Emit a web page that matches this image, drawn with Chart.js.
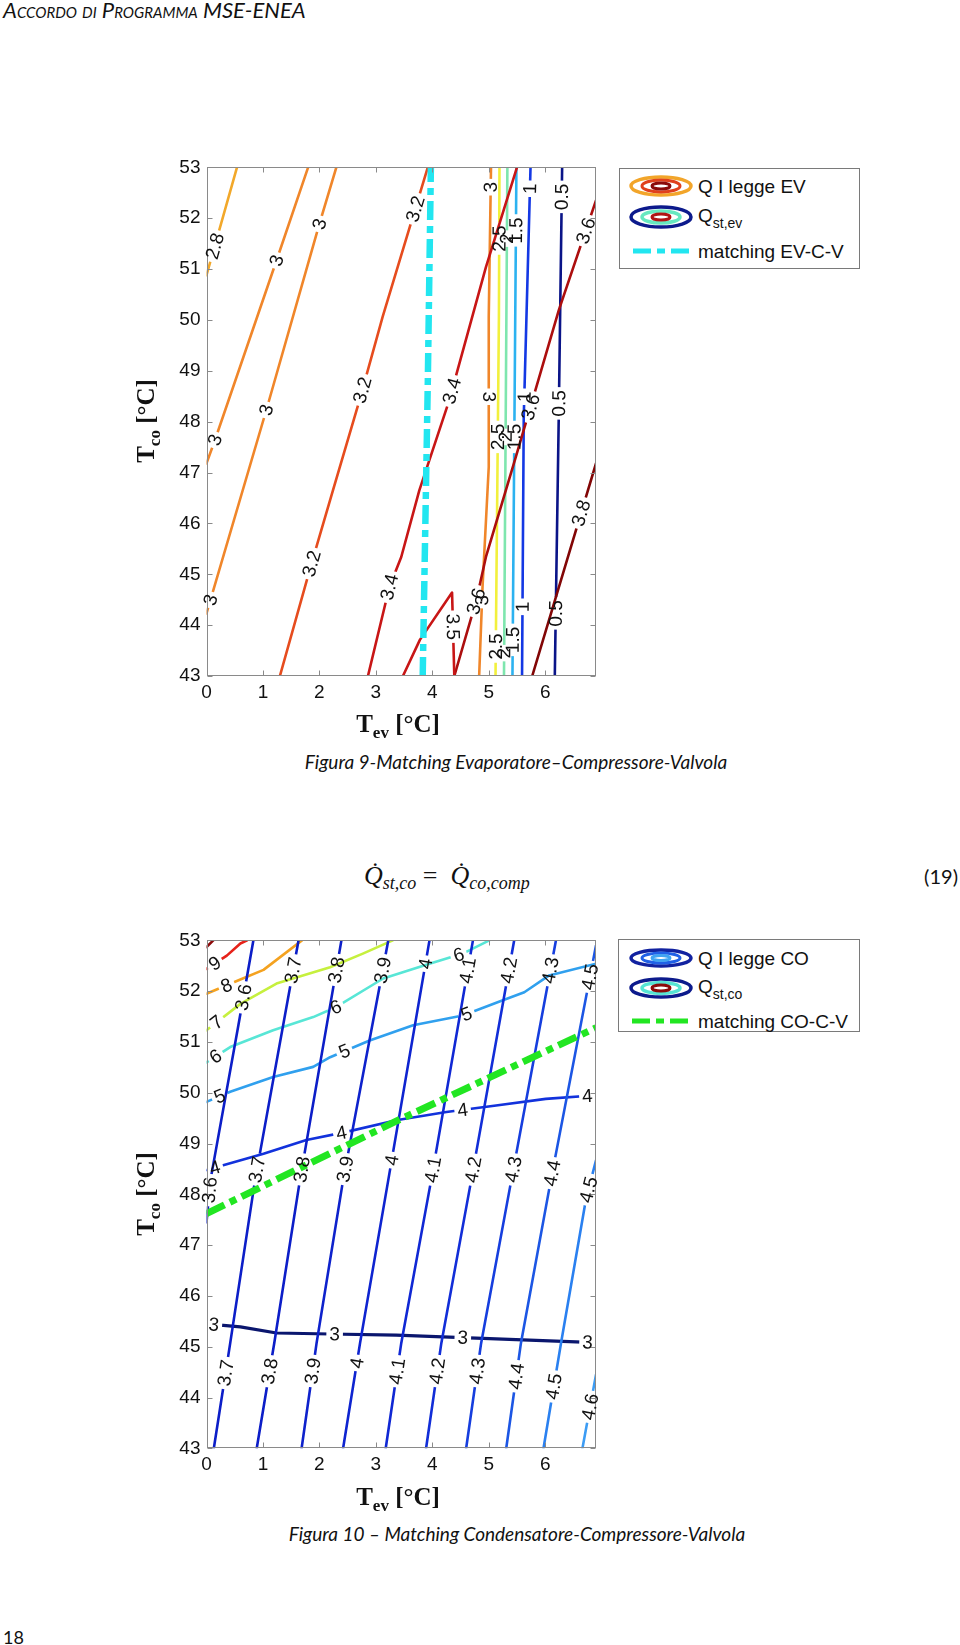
<!DOCTYPE html>
<html lang="it">
<head>
<meta charset="utf-8">
<title>Matching EV-C-V / CO-C-V</title>
<script src="https://cdn.jsdelivr.net/npm/chart.js@4.4.1/dist/chart.umd.min.js"></script>
<style>
  html, body { margin: 0; padding: 0; background: #fff; }
  #page { position: relative; width: 960px; height: 1645px; overflow: hidden; color: #111;
          font-family: "Liberation Sans", Arial, sans-serif; }
  .abs { position: absolute; white-space: nowrap; }
  .hdr { left: 3px; top: -1px; font: italic 22px/22px Lato, sans-serif; font-variant: small-caps; }
  .cap { width: 600px; text-align: center; font: italic 19px/19px Lato, sans-serif; }
  .num { font: 18px/18px Lato, sans-serif; }
  .eq { font: italic 26px/26px "Liberation Serif", serif; }
  .eq sub { font-size: 18px; vertical-align: -5px; }
  .eq .op { font-style: normal; }
  .ttl { width: 200px; height: 30px; text-align: center; font: bold 25px/30px "Liberation Serif", serif; }
  .ttl sub { font-size: 17px; vertical-align: -6px; }
  .rot { transform: rotate(-90deg); transform-origin: 50% 50%; }
  .legend { box-sizing: border-box; border: 1px solid #7a7a7a; background: #fff; }
  .lt { font: 19px/19px "Liberation Sans", Arial, sans-serif; }
  .lt sub { font-size: 14px; vertical-align: -6px; }
</style>
</head>
<body>
<div id="page">
  <div class="abs hdr">Accordo di Programma MSE-ENEA</div>

  <!-- Figura 9 -->
  <div class="abs" style="left:150px;top:150px"><canvas id="fig9" width="460" height="560"></canvas></div>
  <div class="abs ttl rot" style="left:46px;top:406px">T<sub>co</sub> [°C]</div>
  <div class="abs ttl" style="left:298px;top:709px">T<sub>ev</sub> [°C]</div>
  <div class="abs legend" style="left:619px;top:168px;width:241px;height:101px">
    <svg class="abs" style="left:0;top:0" width="239" height="99">
      <ellipse cx="41" cy="17" rx="30" ry="9" fill="none" stroke="#f2a52a" stroke-width="3.5"/>
      <ellipse cx="41" cy="17" rx="19" ry="6" fill="none" stroke="#e0401c" stroke-width="3"/>
      <ellipse cx="41" cy="17" rx="9" ry="3" fill="none" stroke="#8a0a0a" stroke-width="3"/>
      <ellipse cx="41" cy="48" rx="30" ry="10" fill="none" stroke="#0c1a8c" stroke-width="3.5"/>
      <ellipse cx="41" cy="48" rx="19" ry="6" fill="none" stroke="#66e8c0" stroke-width="3.5"/>
      <ellipse cx="41" cy="48" rx="9" ry="3" fill="none" stroke="#b01414" stroke-width="3"/>
      <line x1="13" y1="82" x2="73" y2="82" stroke="#22e6f0" stroke-width="5" stroke-dasharray="18 6 8 6"/>
    </svg>
    <span class="abs lt" style="left:78px;top:8px">Q I legge EV</span>
    <span class="abs lt" style="left:78px;top:37px">Q<sub>st,ev</sub></span>
    <span class="abs lt" style="left:78px;top:73px">matching EV-C-V</span>
  </div>
  <div class="abs cap" style="left:216px;top:752px">Figura 9-Matching Evaporatore–Compressore-Valvola</div>

  <div class="abs eq" style="left:364px;top:863px">Q̇<sub>st,co</sub> <span class="op">=</span>&nbsp; Q̇<sub>co,comp</sub></div>
  <div class="abs cap" style="left:358px;top:867px;text-align:right;font-style:normal;font-size:20px">(19)</div>

  <!-- Figura 10 -->
  <div class="abs" style="left:150px;top:923px"><canvas id="fig10" width="460" height="560"></canvas></div>
  <div class="abs ttl rot" style="left:46px;top:1179px">T<sub>co</sub> [°C]</div>
  <div class="abs ttl" style="left:298px;top:1482px">T<sub>ev</sub> [°C]</div>
  <div class="abs legend" style="left:618px;top:939px;width:242px;height:93px">
    <svg class="abs" style="left:0;top:0" width="240" height="91">
      <ellipse cx="42" cy="18" rx="30" ry="8" fill="none" stroke="#1222a0" stroke-width="3.5"/>
      <ellipse cx="42" cy="18" rx="19" ry="5" fill="none" stroke="#2060e6" stroke-width="3"/>
      <ellipse cx="42" cy="18" rx="9" ry="2.5" fill="none" stroke="#40a4f2" stroke-width="3"/>
      <ellipse cx="42" cy="48" rx="30" ry="9" fill="none" stroke="#0c1a8c" stroke-width="3.5"/>
      <ellipse cx="42" cy="48" rx="19" ry="5.5" fill="none" stroke="#56e4d4" stroke-width="3.5"/>
      <ellipse cx="42" cy="48" rx="9" ry="3" fill="none" stroke="#8a0a0a" stroke-width="3"/>
      <line x1="13" y1="81" x2="73" y2="81" stroke="#22e622" stroke-width="5" stroke-dasharray="18 6 8 6"/>
    </svg>
    <span class="abs lt" style="left:79px;top:9px">Q I legge CO</span>
    <span class="abs lt" style="left:79px;top:37px">Q<sub>st,co</sub></span>
    <span class="abs lt" style="left:79px;top:72px">matching CO-C-V</span>
  </div>
  <div class="abs cap" style="left:217px;top:1524px">Figura 10 – Matching Condensatore-Compressore-Valvola</div>

  <div class="abs num" style="left:3px;top:1628px">18</div>
</div>

<script>
// axis ranges (Tev on x, Tco on y)
const tevRange = [0, 6.9];
const tcoRange = [43, 53];

// ---------- Figura 9 : Q I legge EV isolines [Tev, Tco] ----------
const ev28  = [[0, 50.88], [0.54, 53]];
const ev30a = [[0, 47.18], [0.15, 47.64], [1.24, 51.17], [1.8, 53]];
const ev30b = [[0, 44.23], [1.06, 48.23], [2.0, 51.89], [2.3, 53]];
const ev32  = [[1.3, 43], [1.86, 45.21], [2.24, 46.65], [2.71, 48.42], [3.12, 50.06], [3.92, 53]];
const ev34  = [[2.86, 43], [3.24, 44.75], [3.45, 45.34], [3.77, 46.65], [4.3, 48.42], [4.95, 51.04], [5.5, 53]];
const ev35  = [[3.48, 43], [3.78, 43.71], [4.35, 44.64], [4.39, 43]];
const ev36  = [[4.39, 43], [4.78, 44.49], [4.95, 45.34], [5.48, 47.31], [5.74, 48.29], [6.24, 50.19], [6.9, 52.35]];
const ev38  = [[5.77, 43], [6.9, 47.18]];

// Q st,ev isolines
const st30 = [[4.83, 43], [4.89, 44.75], [5.0, 47.11], [5.0, 50.06], [5.04, 53]];
const st25 = [[5.12, 43], [5.18, 50.05], [5.19, 53]];
const st20 = [[5.27, 43], [5.33, 53]];
const st15 = [[5.42, 43], [5.49, 53]];
const st10 = [[5.59, 43], [5.62, 48.09], [5.74, 53]];
const st05 = [[6.17, 43], [6.24, 48.09], [6.3, 53]];

// matching EV-C-V
const matchEv = [[3.83, 43], [3.92, 48.75], [3.975, 53]];

// contour label anchors
const ev28Lab  = [[0.09, 51.47]];
const ev30aLab = [[0.15, 47.64], [1.24, 51.17]];
const ev30bLab = [[0.09, 44.49], [1.06, 48.23], [2.0, 51.89]];
const ev32Lab  = [[1.86, 45.21], [2.77, 48.62], [3.77, 52.16]];
const ev34Lab  = [[3.24, 44.75], [4.3, 48.62]];
const ev35Lab  = [[4.37, 43.97]];
const ev36Lab  = [[4.71, 44.49], [5.74, 48.29], [6.71, 51.76]];
const ev38Lab  = [[6.65, 46.2]];
const st30Lab  = [[4.92, 44.49], [5.0, 48.49], [5.06, 52.61]];
const st25Lab  = [[5.12, 43.58], [5.18, 47.7], [5.21, 51.6]];
const st20Lab  = [[5.28, 43.45], [5.31, 47.7], [5.31, 51.6]];
const st15Lab  = [[5.42, 43.71], [5.5, 47.7], [5.48, 51.76]];
const st10Lab  = [[5.62, 44.36], [5.65, 48.49], [5.74, 52.58]];
const st05Lab  = [[6.24, 44.23], [6.27, 48.36], [6.3, 52.42]];

// ---------- Figura 10 : Q I legge CO isolines ----------
const co36 = [[0, 47.45], [0.07, 48.28], [0.565, 51.33], [0.83, 53]];
const co37 = [[0.13, 43], [0.42, 45.07], [0.86, 48.28], [1.63, 53]];
const co38 = [[0.89, 43], [1.2, 45.07], [1.655, 48.28], [2.39, 53]];
const co39 = [[1.685, 43], [1.95, 45.07], [2.42, 48.28], [3.22, 53]];
const co40 = [[2.42, 43], [2.72, 45.07], [3.22, 48.28], [3.95, 53]];
const co41 = [[3.175, 43], [3.45, 45.07], [3.98, 48.28], [4.72, 53]];
const co42 = [[3.89, 43], [4.16, 45.07], [4.69, 48.28], [5.45, 53]];
const co43 = [[4.6, 43], [4.865, 45.07], [5.4, 48.28], [6.19, 53]];
const co44 = [[5.31, 43], [5.57, 45.07], [6.1, 48.28], [6.9, 52.9]];
const co45 = [[5.97, 43], [6.28, 45.07], [6.72, 47.89], [6.9, 48.67]];
const co46 = [[6.66, 43], [6.9, 44.45]];

// Q st,co isolines
const sc3  = [[0, 45.45], [0.6, 45.39], [1.24, 45.27], [2.19, 45.25], [3.36, 45.23], [4.54, 45.18], [5.72, 45.13], [6.9, 45.08]];
const sc4  = [[0, 48.48], [1.01, 48.8], [1.77, 49.07], [2.48, 49.23], [3.36, 49.46], [4.25, 49.62], [5.13, 49.75], [6.01, 49.88], [6.9, 49.95]];
const sc5  = [[0, 49.82], [0.42, 50.02], [1.18, 50.31], [1.89, 50.51], [2.19, 50.7], [2.89, 51.03], [3.66, 51.33], [4.54, 51.52], [5.25, 51.82], [5.63, 51.98], [6.07, 52.31], [6.9, 52.54]];
const sc6  = [[0, 50.6], [0.42, 50.9], [1.18, 51.23], [1.89, 51.49], [2.3, 51.69], [3.13, 52.25], [3.95, 52.54], [4.54, 52.74], [5.01, 53]];
const sc7  = [[0, 51.23], [0.6, 51.75], [1.24, 52.15], [2.19, 52.47], [2.77, 52.74], [3.3, 53]];
const sc8  = [[0, 51.95], [0.6, 52.23], [1.01, 52.42], [1.69, 53]];
const sc9  = [[0, 52.44], [0.36, 52.7], [0.6, 52.94], [0.72, 53]];
const sc10 = [[0, 52.87], [0.12, 53]];

// matching CO-C-V
const matchCo = [[0, 47.62], [3.36, 49.44], [6.9, 51.28]];

const co36Lab = [[0.1, 48.08], [0.65, 51.88]];
const co37Lab = [[0.36, 44.48], [0.98, 48.47], [1.54, 52.41]];
const co38Lab = [[1.155, 44.51], [1.74, 48.48], [2.34, 52.41]];
const co39Lab = [[1.95, 44.51], [2.54, 48.48], [3.13, 52.41]];
const co40Lab = [[2.72, 44.67], [3.3, 48.67], [3.89, 52.54]];
const co41Lab = [[3.42, 44.51], [4.04, 48.48], [4.62, 52.41]];
const co42Lab = [[4.16, 44.51], [4.75, 48.48], [5.36, 52.41]];
const co43Lab = [[4.865, 44.51], [5.48, 48.48], [6.1, 52.41]];
const co44Lab = [[5.54, 44.41], [6.16, 48.41], [6.8, 52.28, '4.5']];
const co45Lab = [[6.19, 44.21], [6.81, 48.08]];
const co46Lab = [[6.78, 43.82]];
const sc3Lab  = [[0.13, 45.43], [2.27, 45.25], [4.54, 45.17], [6.75, 45.08]];
const sc4Lab  = [[0.16, 48.48], [2.4, 49.15], [4.54, 49.64], [6.75, 49.9]];
const sc5Lab  = [[0.25, 49.89], [2.46, 50.77], [4.6, 51.57]];
const sc6Lab  = [[0.16, 50.72], [2.3, 51.66], [4.46, 52.74]];
const sc7Lab  = [[0.22, 51.33]];
const sc8Lab  = [[0.36, 52.1]];
const sc9Lab  = [[0.15, 52.54]];

// series -> style
const fig9Series = [
  { level: '2.8', pts: ev28,  lab: ev28Lab,  color: '#f2a82a' },
  { level: '3',   pts: ev30a, lab: ev30aLab, color: '#f0862a' },
  { level: '3',   pts: ev30b, lab: ev30bLab, color: '#f0862a' },
  { level: '3.2', pts: ev32,  lab: ev32Lab,  color: '#e64c1e' },
  { level: '3.4', pts: ev34,  lab: ev34Lab,  color: '#c81616' },
  { level: '3.5', pts: ev35,  lab: ev35Lab,  color: '#c81616' },
  { level: '3.6', pts: ev36,  lab: ev36Lab,  color: '#ac0e0e' },
  { level: '3.8', pts: ev38,  lab: ev38Lab,  color: '#820606' },
  { level: '3',   pts: st30,  lab: st30Lab,  color: '#f0862a' },
  { level: '2.5', pts: st25,  lab: st25Lab,  color: '#f2f03c' },
  { level: '2',   pts: st20,  lab: st20Lab,  color: '#7ee6ae' },
  { level: '1.5', pts: st15,  lab: st15Lab,  color: '#2cb2f0' },
  { level: '1',   pts: st10,  lab: st10Lab,  color: '#1438e4' },
  { level: '0.5', pts: st05,  lab: st05Lab,  color: '#0a1488' },
  { level: '',    pts: matchEv, color: '#22e6f0', width: 6.5, dash: [19, 6, 7, 6] }
];

const fig10Series = [
  { level: '3.6', pts: co36, lab: co36Lab, color: '#0c1ec8' },
  { level: '3.7', pts: co37, lab: co37Lab, color: '#0c1ec8' },
  { level: '3.8', pts: co38, lab: co38Lab, color: '#0c1ec8' },
  { level: '3.9', pts: co39, lab: co39Lab, color: '#0e22cc' },
  { level: '4',   pts: co40, lab: co40Lab, color: '#0e24d0' },
  { level: '4.1', pts: co41, lab: co41Lab, color: '#1028d4' },
  { level: '4.2', pts: co42, lab: co42Lab, color: '#122ed8' },
  { level: '4.3', pts: co43, lab: co43Lab, color: '#163ede' },
  { level: '4.4', pts: co44, lab: co44Lab, color: '#1c56e4' },
  { level: '4.5', pts: co45, lab: co45Lab, color: '#2a80f0' },
  { level: '4.6', pts: co46, lab: co46Lab, color: '#3c9cf4' },
  { level: '3',   pts: sc3,  lab: sc3Lab,  color: '#0a166e', width: 3.2 },
  { level: '4',   pts: sc4,  lab: sc4Lab,  color: '#1232dc' },
  { level: '5',   pts: sc5,  lab: sc5Lab,  color: '#30a0ee' },
  { level: '6',   pts: sc6,  lab: sc6Lab,  color: '#58e6d6' },
  { level: '7',   pts: sc7,  lab: sc7Lab,  color: '#c6f03e' },
  { level: '8',   pts: sc8,  lab: sc8Lab,  color: '#f4a220' },
  { level: '9',   pts: sc9,  lab: sc9Lab,  color: '#e6221a' },
  { level: '10',  pts: sc10, color: '#8c0a0a' },
  { level: '',    pts: matchCo, color: '#22e622', width: 7, dash: [20, 6, 7, 6] }
];

const LABEL_FONT = '19px "Liberation Sans", Arial, sans-serif';

// where each contour label sits on its own line (pixel space)
function labelGeometry(chart, ds) {
  const xs = chart.scales.x, ys = chart.scales.y;
  const pix = ds.data.map(p => [xs.getPixelForValue(p.x), ys.getPixelForValue(p.y)]);
  const ctx = chart.ctx;
  ctx.save();
  ctx.font = LABEL_FONT;
  const out = (ds.labelsAt || []).map(l => {
    const q = [xs.getPixelForValue(l[0]), ys.getPixelForValue(l[1])];
    let best = null;
    for (let i = 0; i < pix.length - 1; i++) {
      const a = pix[i], b = pix[i + 1];
      const dx = b[0] - a[0], dy = b[1] - a[1];
      let t = ((q[0] - a[0]) * dx + (q[1] - a[1]) * dy) / (dx * dx + dy * dy);
      t = Math.max(0, Math.min(1, t));
      const cx = a[0] + t * dx, cy = a[1] + t * dy;
      const d = (cx - q[0]) ** 2 + (cy - q[1]) ** 2;
      if (!best || d < best.d) best = { d, cx, cy, ang: Math.atan2(dy, dx) };
    }
    let ang = best.ang;
    if (ang > Math.PI / 2) ang -= Math.PI;
    if (ang <= -Math.PI / 2) ang += Math.PI;
    const text = l[2] || ds.label;
    return { cx: best.cx, cy: best.cy, ang, text, w: ctx.measureText(text).width };
  });
  ctx.restore();
  return out;
}

// break each line where its own label goes (like clabel)
const lineGaps = {
  id: 'lineGaps',
  beforeDatasetDraw(chart, args) {
    const ctx = chart.ctx;
    ctx.save();
    const geo = labelGeometry(chart, chart.data.datasets[args.index]);
    if (!geo.length) return;
    ctx.beginPath();
    ctx.rect(0, 0, chart.width, chart.height);
    geo.forEach(g => {
      const c = Math.cos(g.ang), s = Math.sin(g.ang);
      const hw = g.w / 2 + 3, hh = 8;
      const pts = [[-hw, -hh], [-hw, hh], [hw, hh], [hw, -hh]]
        .map(([u, v]) => [g.cx + u * c - v * s, g.cy + u * s + v * c]);
      ctx.moveTo(pts[0][0], pts[0][1]);
      pts.slice(1).forEach(p => ctx.lineTo(p[0], p[1]));
      ctx.closePath();
    });
    ctx.clip('evenodd');
  },
  afterDatasetDraw(chart) {
    chart.ctx.restore();
  }
};

const contourLabels = {
  id: 'contourLabels',
  afterDatasetsDraw(chart) {
    const ctx = chart.ctx;
    chart.data.datasets.forEach(ds => {
      labelGeometry(chart, ds).forEach(g => {
        ctx.save();
        ctx.font = LABEL_FONT;
        ctx.fillStyle = '#111';
        ctx.textAlign = 'center';
        ctx.textBaseline = 'middle';
        ctx.translate(g.cx, g.cy);
        ctx.rotate(g.ang);
        ctx.fillText(g.text, 0, 1);
        ctx.restore();
      });
    });
  }
};

// matlab style box with inward ticks
const frame = {
  id: 'frame',
  afterDatasetsDraw(chart) {
    const { ctx, chartArea: a } = chart;
    const xs = chart.scales.x, ys = chart.scales.y;
    const L = Math.round(a.left) + 0.5, R = Math.round(a.right) - 0.5;
    const T = Math.round(a.top) + 0.5, B = Math.round(a.bottom) - 0.5;
    ctx.save();
    ctx.strokeStyle = '#8a8a8a';
    ctx.lineWidth = 1;
    ctx.strokeRect(L, T, R - L, B - T);
    ctx.beginPath();
    xs.ticks.forEach(t => {
      const p = Math.round(xs.getPixelForValue(t.value)) + 0.5;
      ctx.moveTo(p, B); ctx.lineTo(p, B - 5);
      ctx.moveTo(p, T); ctx.lineTo(p, T + 5);
    });
    ys.ticks.forEach(t => {
      const p = Math.round(ys.getPixelForValue(t.value)) + 0.5;
      ctx.moveTo(L, p); ctx.lineTo(L + 5, p);
      ctx.moveTo(R, p); ctx.lineTo(R - 5, p);
    });
    ctx.stroke();
    ctx.restore();
  }
};

const tickFont = { family: '"Liberation Sans", Arial, sans-serif', size: 19 };

function buildChart(id, series, pad) {
  return new Chart(document.getElementById(id), {
    type: 'scatter',
    data: {
      datasets: series.map(s => ({
        label: s.level,
        data: s.pts.map(([x, y]) => ({ x, y })),
        labelsAt: s.lab || [],
        showLine: true,
        borderColor: s.color,
        backgroundColor: s.color,
        borderWidth: s.width || 2.6,
        borderDash: s.dash || [],
        borderCapStyle: s.dash ? 'butt' : 'round',
        borderJoinStyle: 'round',
        pointRadius: 0,
        tension: 0,
        clip: 0,
        order: s.dash ? 0 : 1
      }))
    },
    options: {
      responsive: false,
      animation: false,
      devicePixelRatio: 1,
      events: [],
      layout: { padding: pad },
      plugins: { legend: { display: false }, tooltip: { enabled: false } },
      scales: {
        x: {
          type: 'linear', min: tevRange[0], max: tevRange[1],
          afterFit: s => { s.height = 30; },
          grid: { display: false, drawTicks: false },
          border: { display: false },
          ticks: { stepSize: 1, includeBounds: false, padding: 5, maxRotation: 0, color: '#111', font: tickFont }
        },
        y: {
          type: 'linear', min: tcoRange[0], max: tcoRange[1],
          afterFit: s => { s.width = 56.5; },
          grid: { display: false, drawTicks: false },
          border: { display: false },
          ticks: { stepSize: 1, includeBounds: false, padding: 6, color: '#111', font: tickFont }
        }
      }
    },
    plugins: [lineGaps, frame, contourLabels]
  });
}

buildChart('fig9', fig9Series, { left: 0, top: 16.7, right: 14, bottom: 4 });
buildChart('fig10', fig10Series, { left: 0, top: 17, right: 14, bottom: 4.7 });
</script>
</body>
</html>
